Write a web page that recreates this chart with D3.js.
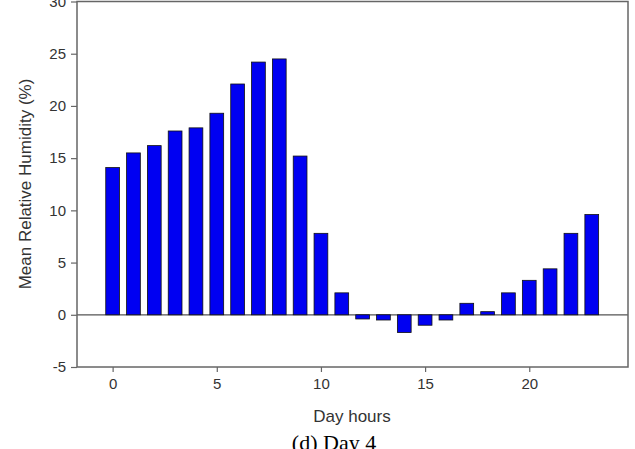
<!DOCTYPE html>
<html>
<head>
<meta charset="utf-8">
<script src="https://cdn.jsdelivr.net/npm/d3@7"></script>
<style>
  body { margin: 0; background: #fff; }
  svg { display: block; }
</style>
</head>
<body>
<div id="chart"></div>
<script>
// ------ DATA ------
const hours = d3.range(0, 24);
const humidity = [14.1, 15.5, 16.2, 17.6, 17.9, 19.3, 22.1, 24.2, 24.5, 15.2,
                  7.8, 2.1, -0.4, -0.5, -1.7, -1.0, -0.5, 1.1, 0.3, 2.1,
                  3.3, 4.4, 7.8, 9.6];
const xTicks = [0, 5, 10, 15, 20];
const yTicks = [-5, 0, 5, 10, 15, 20, 25, 30];

// ------ LAYOUT ------
const W = 635, H = 449;
const plot = {left: 77, right: 628, top: 1.5, bottom: 367};

const svg = d3.select("#chart").append("svg")
  .attr("width", W)
  .attr("height", H);

const x = d3.scaleLinear()
  .domain([-1.71, 24.74])
  .range([plot.left, plot.right]);

const y = d3.scaleLinear()
  .domain([-5, 30])
  .range([plot.bottom, plot.top]);

const barW = (x(1) - x(0)) * 0.66;

// zero line
svg.append("line")
  .attr("x1", plot.left).attr("x2", plot.right)
  .attr("y1", y(0)).attr("y2", y(0))
  .attr("stroke", "#555").attr("stroke-width", 1.2);

// bars
svg.selectAll(".bar")
  .data(hours)
  .join("rect")
    .attr("class", "bar")
    .attr("x", d => x(d) - barW / 2)
    .attr("width", barW)
    .attr("y", (d, i) => y(Math.max(0, humidity[i])))
    .attr("height", (d, i) => Math.abs(y(humidity[i]) - y(0)))
    .attr("fill", "#0000f2")
    .attr("stroke", "#111")
    .attr("stroke-width", 0.8);

// frame
svg.append("rect")
  .attr("x", plot.left).attr("y", plot.top)
  .attr("width", plot.right - plot.left)
  .attr("height", plot.bottom - plot.top)
  .attr("fill", "none")
  .attr("stroke", "#666")
  .attr("stroke-width", 1.5);

// axes (plain hyphen for negatives, like the original)
const fmt = d => String(d);
const xAxis = svg.append("g")
  .attr("transform", `translate(0,${plot.bottom})`)
  .call(d3.axisBottom(x).tickValues(xTicks).tickFormat(fmt).tickSize(5).tickPadding(6).tickSizeOuter(0));
const yAxis = svg.append("g")
  .attr("transform", `translate(${plot.left},0)`)
  .call(d3.axisLeft(y).tickValues(yTicks).tickFormat(fmt).tickSize(6).tickPadding(5).tickSizeOuter(0));

[xAxis, yAxis].forEach(g => {
  g.select(".domain").remove();
  g.selectAll(".tick line").attr("stroke", "#666").attr("stroke-width", 1.2);
  g.selectAll(".tick text")
    .attr("fill", "#333")
    .style("font-family", "'Liberation Sans', Arial, sans-serif")
    .style("font-size", "15px");
});

// axis titles
svg.append("text")
  .attr("x", 352).attr("y", 422)
  .attr("text-anchor", "middle")
  .attr("fill", "#333")
  .style("font-family", "'Liberation Sans', Arial, sans-serif")
  .style("font-size", "17px")
  .text("Day hours");

svg.append("text")
  .attr("transform", "translate(31,184) rotate(-90)")
  .attr("text-anchor", "middle")
  .attr("fill", "#333")
  .style("font-family", "'Liberation Sans', Arial, sans-serif")
  .style("font-size", "17px")
  .text("Mean Relative Humidity (%)");

// caption
svg.append("text")
  .attr("x", 334).attr("y", 450)
  .attr("text-anchor", "middle")
  .attr("fill", "#000")
  .style("font-family", "'Liberation Serif', 'Times New Roman', serif")
  .style("font-size", "22px")
  .text("(d) Day 4");
</script>
</body>
</html>
